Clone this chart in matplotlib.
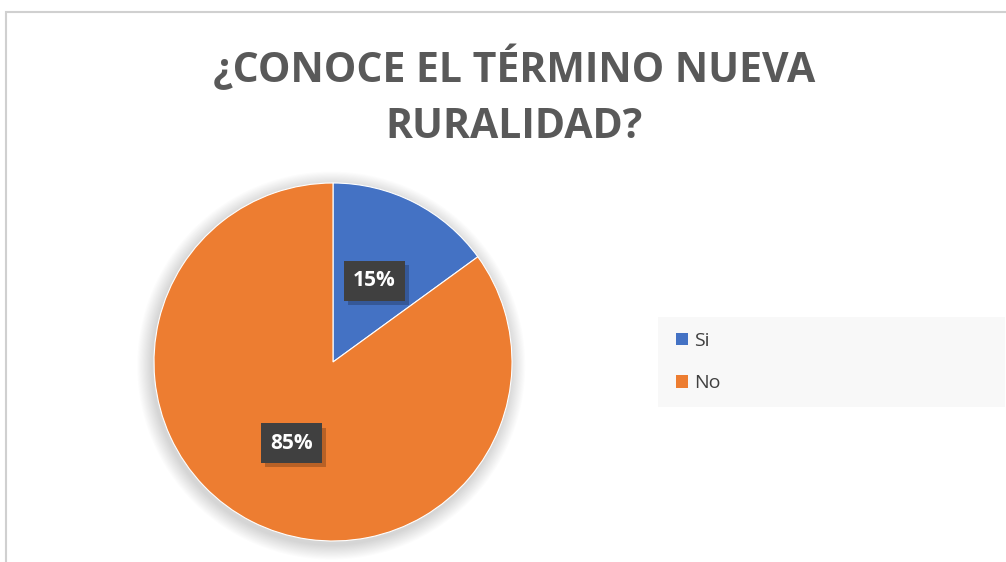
import matplotlib
matplotlib.use("Agg")
import matplotlib.pyplot as plt
import matplotlib.patheffects as pe
from matplotlib.patches import Rectangle, Circle, Patch

# datos
labels = ["Si", "No"]
values = [15, 85]
colors = ["#4472C4", "#ED7D31"]
title_lines = ["¿CONOCE EL TÉRMINO NUEVA", "RURALIDAD?"]

W, H = 1006, 562
fig = plt.figure(figsize=(W / 100, H / 100), dpi=100)
fig.patch.set_facecolor("white")

def px(x, y):
    # pixel (top-left origin) -> figure fraction
    return x / W, 1 - y / H

# chart border
x0, y0 = px(6, 12)
fig.patches.append(Rectangle((x0, -0.1), 1.2, y0 + 0.1, transform=fig.transFigure,
                             fill=False, edgecolor="#d0d0d0", linewidth=1.5))

# legend background
lx, ly = px(658, 407)
fig.patches.append(Rectangle((lx, ly), (1005 - 658) / W, 90 / H, transform=fig.transFigure,
                             facecolor="#f8f8f8", edgecolor="none"))

for line, yb in zip(title_lines, [82, 138]):
    fig.text(514 / W, px(0, yb)[1], line, ha="center", va="baseline", fontsize=29.5,
             fontweight="bold", color="#595959", family="Open Sans")

# pie axes
cx, cy = px(333, 362)
r = 179
ax = fig.add_axes([cx - r / W, cy - r / H, 2 * r / W, 2 * r / H])

# soft shadow
for i in range(14):
    ax.add_patch(Circle((-0.01, -0.02), 1.0 + 0.006 * (14 - i), facecolor="black",
                        alpha=0.012, edgecolor="none", zorder=0, clip_on=False))

wedges, texts, autotexts = ax.pie(values, colors=colors, startangle=90, counterclock=False,
                                  autopct="%1.0f%%", pctdistance=0.51, radius=1.0,
                                  wedgeprops=dict(edgecolor="white", linewidth=0.8))
ax.set_xlim(-1, 1)
ax.set_ylim(-1, 1)
ax.axis("off")
for w in wedges:
    w.set_zorder(2)
for t in autotexts:
    t.set_fontsize(15)
    t.set_fontweight("bold")
    t.set_color("white")
    t.set_family("Open Sans")
    t.set_zorder(4)
    t.set_bbox(dict(boxstyle="square,pad=0.45", facecolor="#404040", edgecolor="none"))
    t.get_bbox_patch().set_path_effects([
        pe.SimplePatchShadow(offset=(3, -3), shadow_rgbFace="black", alpha=0.22),
        pe.Normal()])

handles = [Patch(facecolor=c, edgecolor="none") for c in colors]
fig.legend(handles, labels, loc="upper left", bbox_to_anchor=px(676, 332), frameon=False,
           borderpad=0, borderaxespad=0, handlelength=0.6, handleheight=0.6, handletextpad=0.35,
           labelspacing=1.25, labelcolor="#404040", prop={"family": "Open Sans", "size": 14})

fig.savefig("out.png", dpi=100)
